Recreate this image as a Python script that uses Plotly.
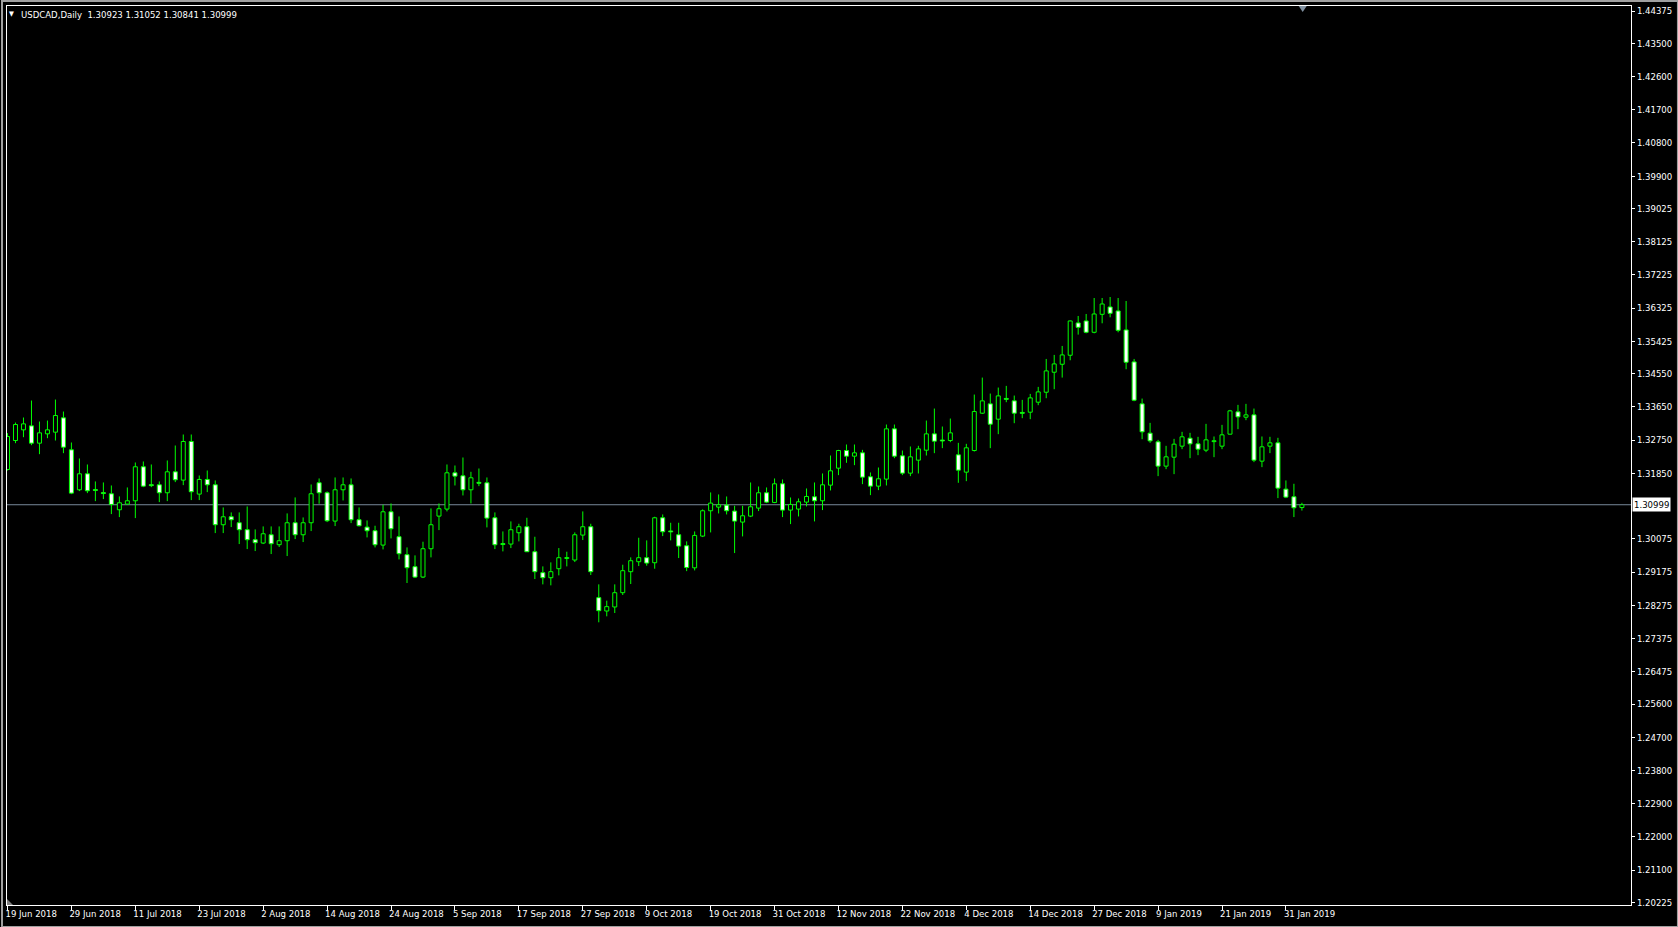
import plotly.graph_objects as go

# ---------------- data ----------------
opens = [1.31954,1.32739,1.33028,1.33136,1.32667,1.32920,1.32965,1.33353,1.32487,1.31404,
         1.31837,1.31410,1.31327,1.31296,1.30863,1.31016,1.31106,1.32027,1.31542,1.31539,
         1.31323,1.31891,1.31666,1.32712,1.31287,1.31684,1.31539,1.30457,1.30673,1.30511,
         1.30322,1.30051,1.29961,1.30186,1.29916,1.30024,1.30511,1.30186,1.30511,1.31594,
         1.31323,1.30556,1.31404,1.31539,1.30592,1.30393,1.30294,1.29906,1.30808,1.30132,
         1.29645,1.29320,1.29040,1.29807,1.30691,1.30881,1.31864,1.31783,1.31404,1.31605,
         1.31593,1.30646,1.29946,1.29934,1.30240,1.30403,1.29726,1.29158,1.29022,1.29266,
         1.29543,1.29501,1.30177,1.30403,1.28481,1.28120,1.28229,1.28616,1.29185,1.29455,
         1.29564,1.29428,1.30646,1.30288,1.30186,1.29888,1.29290,1.30150,1.30836,1.30935,
         1.30989,1.30827,1.30529,1.30691,1.30908,1.31323,1.31061,1.31566,1.30854,1.30881,
         1.31070,1.31214,1.31106,1.31530,1.31990,1.32468,1.32315,1.32405,1.31756,1.31503,
         1.31693,1.33055,1.32324,1.31855,1.32207,1.32477,1.32919,1.32751,1.32739,1.32351,
         1.31882,1.32468,1.33479,1.33732,1.33317,1.33879,1.33813,1.33500,1.33506,1.33777,
         1.34047,1.34589,1.34805,1.35049,1.35924,1.35978,1.35671,1.36158,1.36357,1.36249,
         1.35734,1.34868,1.33732,1.32938,1.32703,1.32045,1.32288,1.32586,1.32802,1.32649,
         1.32478,1.32709,1.32586,1.32911,1.33515,1.33371,1.33434,1.32180,1.32586,1.32676,
         1.31422,1.31215,1.30923]
highs = [1.32938,1.33226,1.33362,1.33822,1.33253,1.33280,1.33849,1.33524,1.32685,1.32252,
         1.32090,1.31630,1.31603,1.31521,1.31224,1.31467,1.32144,1.32171,1.32090,1.31630,
         1.32198,1.32604,1.32902,1.32902,1.31792,1.31927,1.31657,1.30926,1.30791,1.30791,
         1.30953,1.30331,1.30412,1.30412,1.30412,1.30764,1.31197,1.30655,1.31548,1.31711,
         1.31359,1.31738,1.31738,1.31711,1.30926,1.30574,1.30430,1.30998,1.31034,1.30682,
         1.29843,1.29627,1.29997,1.30899,1.31034,1.32090,1.32062,1.32279,1.31891,1.31981,
         1.31738,1.30791,1.30276,1.30547,1.30484,1.30646,1.30132,1.29329,1.29437,1.29825,
         1.29726,1.30249,1.30818,1.30484,1.28842,1.28400,1.28842,1.29374,1.29573,1.30105,
         1.30033,1.30673,1.30736,1.30511,1.30511,1.30006,1.30276,1.30872,1.31332,1.31278,
         1.31223,1.30971,1.30971,1.31602,1.31494,1.31467,1.31711,1.31684,1.31196,1.31169,
         1.31440,1.31602,1.31846,1.32333,1.32486,1.32631,1.32631,1.32486,1.31873,1.32008,
         1.33172,1.33172,1.32468,1.32577,1.32595,1.33280,1.33605,1.33118,1.33334,1.32676,
         1.32649,1.33984,1.34444,1.34011,1.34174,1.34219,1.33957,1.33840,1.34002,1.34192,
         1.34949,1.35058,1.35301,1.35990,1.36113,1.36167,1.36600,1.36600,1.36627,1.36600,
         1.36519,1.34949,1.33876,1.33217,1.32757,1.32595,1.32784,1.32974,1.32947,1.32839,
         1.33190,1.32848,1.33163,1.33569,1.33705,1.33732,1.33605,1.32848,1.32839,1.32812,
         1.31657,1.31567,1.31052]
lows = [1.31927,1.32667,1.32829,1.32613,1.32369,1.32802,1.32739,1.32396,1.31287,1.31368,
        1.31314,1.31097,1.31152,1.30746,1.30664,1.31007,1.30637,1.31476,1.31476,1.31070,
        1.31097,1.31612,1.31530,1.31125,1.31125,1.31341,1.30231,1.30231,1.30394,1.29934,
        1.29798,1.29744,1.29934,1.29663,1.29853,1.29609,1.30069,1.29988,1.30285,1.31025,
        1.30529,1.30421,1.31115,1.30502,1.30412,1.30114,1.29843,1.29789,1.30087,1.29518,
        1.28878,1.29013,1.29013,1.29573,1.30312,1.30818,1.31521,1.31251,1.31034,1.31503,
        1.30385,1.29798,1.29735,1.29825,1.30006,1.29720,1.28986,1.28842,1.28815,1.29086,
        1.29329,1.29446,1.30042,1.29095,1.27814,1.27976,1.28066,1.28553,1.28851,1.29338,
        1.29347,1.29266,1.30150,1.30033,1.29555,1.29200,1.29220,1.30123,1.30249,1.30763,
        1.30736,1.29690,1.30141,1.30664,1.30827,1.31043,1.31043,1.30664,1.30475,1.30682,
        1.30953,1.30547,1.30854,1.31386,1.31801,1.32135,1.32071,1.31557,1.31260,1.31395,
        1.31521,1.32261,1.31801,1.31774,1.31846,1.32333,1.32396,1.32532,1.32694,1.31593,
        1.31638,1.32441,1.33460,1.32532,1.32911,1.33777,1.33208,1.33344,1.33317,1.33696,
        1.33885,1.34129,1.34444,1.34913,1.35608,1.35644,1.35644,1.35915,1.36077,1.35671,
        1.34670,1.33804,1.32775,1.32676,1.31774,1.31963,1.31828,1.32505,1.32261,1.32342,
        1.32424,1.32288,1.32505,1.32900,1.33046,1.33290,1.32153,1.32018,1.32397,1.31179,
        1.31179,1.30665,1.30841]
closes = [1.32847,1.33172,1.33190,1.32667,1.32947,1.33028,1.33416,1.32559,1.31314,1.31837,
          1.31377,1.31385,1.31302,1.31007,1.31052,1.31106,1.32027,1.31503,1.31517,1.31323,
          1.31891,1.31675,1.32712,1.31350,1.31684,1.31539,1.30457,1.30673,1.30592,1.30322,
          1.30051,1.29970,1.30213,1.29943,1.30024,1.30511,1.30186,1.30511,1.31296,1.31323,
          1.30565,1.31404,1.31539,1.30592,1.30430,1.30294,1.29915,1.30808,1.30348,1.29672,
          1.29293,1.29040,1.29807,1.30457,1.30890,1.31864,1.31774,1.31404,1.31729,1.31580,
          1.30637,1.29915,1.29921,1.30321,1.30403,1.29726,1.29185,1.29022,1.29185,1.29564,
          1.29568,1.30186,1.30403,1.29185,1.28129,1.28238,1.28616,1.29212,1.29482,1.29564,
          1.29419,1.30646,1.30267,1.30264,1.29879,1.29300,1.30168,1.30836,1.31043,1.30998,
          1.30836,1.30556,1.30700,1.30944,1.31323,1.31070,1.31566,1.30854,1.31007,1.31079,
          1.31223,1.31106,1.31539,1.31918,1.32468,1.32315,1.32405,1.31747,1.31503,1.31702,
          1.33055,1.32315,1.31855,1.32297,1.32513,1.32919,1.32721,1.32727,1.32946,1.31936,
          1.32541,1.33524,1.33813,1.33181,1.33948,1.33855,1.33479,1.33476,1.33894,1.34056,
          1.34625,1.34814,1.35058,1.35978,1.35806,1.35671,1.36167,1.36438,1.36185,1.35725,
          1.34859,1.33831,1.32974,1.32730,1.32045,1.32297,1.32640,1.32839,1.32649,1.32505,
          1.32757,1.32733,1.32893,1.33542,1.33380,1.33434,1.32207,1.32568,1.32676,1.31449,
          1.31206,1.30917,1.30999]

x_tick_bars = [0, 8, 16, 24, 32, 40, 48, 56, 64, 72, 80, 88, 96, 104, 112, 120, 128, 136, 144, 152, 160]
x_tick_labels = ["19 Jun 2018", "29 Jun 2018", "11 Jul 2018", "23 Jul 2018", "2 Aug 2018",
                 "14 Aug 2018", "24 Aug 2018", "5 Sep 2018", "17 Sep 2018", "27 Sep 2018",
                 "9 Oct 2018", "19 Oct 2018", "31 Oct 2018", "12 Nov 2018", "22 Nov 2018",
                 "4 Dec 2018", "14 Dec 2018", "27 Dec 2018", "9 Jan 2019", "21 Jan 2019",
                 "31 Jan 2019"]
y_tick_values = [1.44375, 1.43500, 1.42600, 1.41700, 1.40800, 1.39900, 1.39025, 1.38125,
                 1.37225, 1.36325, 1.35425, 1.34550, 1.33650, 1.32750, 1.31850, 1.30075,
                 1.29175, 1.28275, 1.27375, 1.26475, 1.25600, 1.24700, 1.23800, 1.22900,
                 1.22000, 1.21100, 1.20225]
y_tick_labels = ["%.5f" % v for v in y_tick_values]

symbol_title = "USDCAD,Daily"
last_bar = [1.30923, 1.31052, 1.30841, 1.30999]
bid_price = 1.30999

# ---------------- layout geometry ----------------
W, H = 1678, 927
ML, MR, MT, MB = 5, 47, 5, 22
PW, PH = W - ML - MR, H - MT - MB
X_RANGE = [-0.0625, -0.0625 + PW / 8.0]
Y_RANGE = [1.20155, 1.44511]

GREEN = "#00ff00"
FONT = "DejaVu Sans Condensed, Liberation Sans, Arial, sans-serif"

n = len(opens)
bars = list(range(n))

bull_x, bull_base, bull_h = [], [], []
bear_x, bear_base, bear_h = [], [], []
wx, wy = [], []
for i in bars:
    o, h, l, c = opens[i], highs[i], lows[i], closes[i]
    top, bot = max(o, c), min(o, c)
    if c >= o:
        bull_x.append(i); bull_base.append(o); bull_h.append(c - o)
    else:
        bear_x.append(i); bear_base.append(c); bear_h.append(o - c)
    if h > top:
        wx += [i, i, None]; wy += [h, top, None]
    if l < bot:
        wx += [i, i, None]; wy += [bot, l, None]

fig = go.Figure()
fig.add_trace(go.Bar(x=bull_x, y=bull_h, base=bull_base, width=0.5,
                     marker=dict(color="#000000", line=dict(color=GREEN, width=1)),
                     hoverinfo="skip"))
fig.add_trace(go.Bar(x=bear_x, y=bear_h, base=bear_base, width=0.5,
                     marker=dict(color="#ffffff", line=dict(color=GREEN, width=1)),
                     hoverinfo="skip"))
fig.add_trace(go.Scatter(x=wx, y=wy, mode="lines", line=dict(color=GREEN, width=1),
                         connectgaps=False, hoverinfo="skip"))

fig.update_layout(
    width=W, height=H,
    margin=dict(l=ML, r=MR, t=MT, b=MB, pad=0),
    paper_bgcolor="#000000", plot_bgcolor="#000000",
    showlegend=False, barmode="overlay",
    font=dict(family=FONT, size=10, color="#ffffff"),
)
fig.update_xaxes(
    range=X_RANGE, tickmode="array", tickvals=x_tick_bars, ticktext=x_tick_labels,
    ticks="outside", ticklen=4, tickwidth=1, tickcolor="#ffffff",
    ticklabelposition="outside right", ticklabelshift=-3,
    showline=True, linecolor="#ffffff", linewidth=1, mirror=True,
    showgrid=False, zeroline=False,
    tickfont=dict(family=FONT, size=9.5, color="#ffffff"),
)
fig.update_yaxes(
    range=Y_RANGE, side="right", tickmode="array", tickvals=y_tick_values, ticktext=y_tick_labels,
    ticks="outside", ticklen=3, tickwidth=1, tickcolor="#ffffff",
    showline=True, linecolor="#ffffff", linewidth=1, mirror=True,
    showgrid=False, zeroline=False,
    tickfont=dict(family=FONT, size=9.5, color="#ffffff"),
)

# bid line
fig.add_shape(type="line", xref="paper", yref="y", x0=0, x1=1, y0=bid_price, y1=bid_price,
              line=dict(color="#778899", width=1), layer="below")
# bid label on the price axis
fig.add_annotation(xref="paper", yref="y", x=1, y=bid_price, xanchor="left", yanchor="middle",
                   xshift=1, text="%.5f" % bid_price, showarrow=False,
                   bgcolor="#ffffff", borderpad=1,
                   font=dict(family=FONT, size=9.5, color="#000000"))
# header
fig.add_annotation(xref="paper", yref="paper", x=0, y=1, xanchor="left", yanchor="middle",
                   xshift=0, yshift=-8, text="▼", showarrow=False,
                   font=dict(family=FONT, size=7, color="#ffffff"))
fig.add_annotation(xref="paper", yref="paper", x=0, y=1, xanchor="left", yanchor="middle",
                   xshift=12, yshift=-8,
                   text=symbol_title + "&nbsp; " + " ".join("%.5f" % v for v in last_bar),
                   showarrow=False, font=dict(family=FONT, size=9.5, color="#ffffff"))
# chart-shift marker at the top
fig.add_shape(type="path", xref="x", yref="paper",
              path="M %f,%f L %f,%f L %f,%f Z" % (n - 1 - 0.4, 1.0, n - 1 + 0.6, 1.0, n - 1 + 0.1, 1 - 6.0 / PH),
              fillcolor="#8090a0", line=dict(width=0))
# corner marker bottom-left
fig.add_shape(type="path", xref="paper", yref="paper",
              path="M 0,0 L 0,%f L %f,0 Z" % (6.0 / PH, 6.0 / PW),
              fillcolor="#808080", line=dict(width=0))
# window border
fig.add_shape(type="rect", xref="paper", yref="paper",
              x0=-ML / PW, x1=(W - ML) / PW, y0=-MB / PH, y1=(H - MB) / PH,
              line=dict(color="#a0a0a0", width=2), fillcolor="rgba(0,0,0,0)")

fig.write_html("out.html",
               config={"displayModeBar": False, "staticPlot": False},
               post_script="document.body.style.margin='0';document.body.style.padding='0';"
                           "document.documentElement.style.overflow='hidden';")
